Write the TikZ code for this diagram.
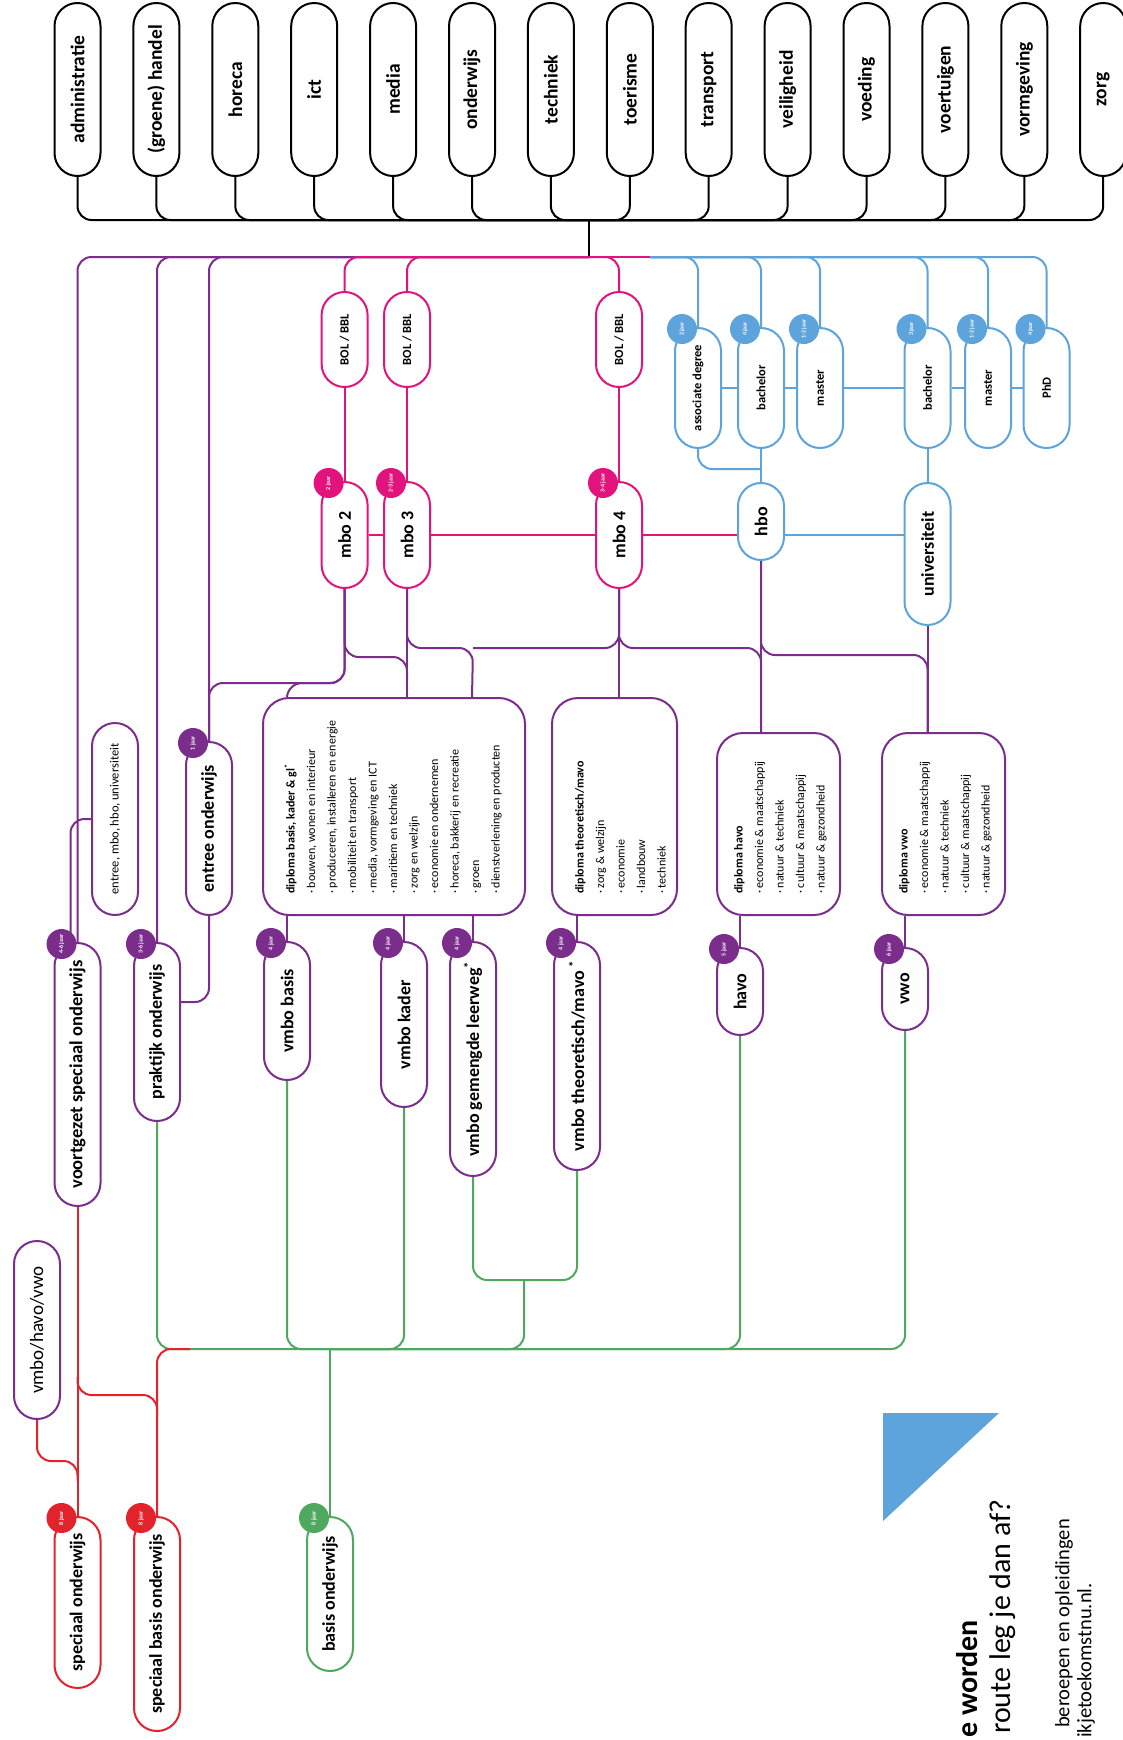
\documentclass[tikz,border=0pt]{standalone}
\usepackage{fontspec}
\setmainfont{Carlito}
\usetikzlibrary{calc,positioning,backgrounds}

\definecolor{paars}{HTML}{7B2D8B}
\definecolor{roze}{HTML}{E2137D}
\definecolor{lichtblauw}{HTML}{5DA3DC}
\definecolor{groen}{HTML}{4FA85E}
\definecolor{rood}{HTML}{E3232C}

\newcommand{\opzij}[1]{\rotatebox{90}{#1}}
\newcommand{\grootvet}{\fontsize{18}{19}\selectfont\bfseries}
\newcommand{\kleinvet}{\fontsize{12.5}{14}\selectfont\bfseries}
\newcommand{\klein}{\fontsize{12.5}{14}\selectfont}

\tikzset{
  pil/.style={draw=#1, line width=2pt, fill=white, rounded corners=23pt, minimum width=46pt, inner sep=0pt, font=\grootvet},
  pil/.default=black,
  doos/.style={draw=paars, line width=2pt, fill=white, rounded corners=26pt, inner sep=0pt},
  badge/.style={circle, fill=#1, minimum size=30pt, inner sep=0pt, text=white, font=\fontsize{6}{7}\selectfont\bfseries},
  lijn/.style={draw=#1, line width=2pt, rounded corners=14pt},
  blok/.style={inner sep=0pt, anchor=south west, font=\fontsize{12}{20.5}\selectfont}
}

\begin{document}
\begin{tikzpicture}[x=1pt, y=-1pt]
\useasboundingbox (0,0) rectangle (1122,1740);

\foreach \naam [count=\i from 0] in {administratie,(groene) handel,horeca,ict,media,onderwijs,techniek,toerisme,transport,veiligheid,voeding,voertuigen,vormgeving,zorg}
  \node[pil, minimum height=173pt, font=\fontsize{19.5}{20}\selectfont\bfseries] (s\i) at ({77.5+78.9*\i},89.5) {\opzij{\naam}};

\coordinate (stam) at (589,220);
\coordinate (hub) at (589,257);
\coordinate (hubr) at (650,257);

\node[pil=roze, minimum height=95pt, font=\kleinvet] (boltwo) at (344.6,339.5) {\opzij{BOL / BBL}};
\node[pil=roze, minimum height=95pt, font=\kleinvet] (bolthree) at (407,339.5) {\opzij{BOL / BBL}};
\node[pil=roze, minimum height=95pt, font=\kleinvet] (bolfour) at (619,339.5) {\opzij{BOL / BBL}};
\node[pil=roze, minimum height=106pt] (mbotwo) at (344.6,535) {\opzij{mbo 2}};
\node[pil=roze, minimum height=106pt] (mbothree) at (407,535) {\opzij{mbo 3}};
\node[pil=roze, minimum height=106pt] (mbofour) at (619,535) {\opzij{mbo 4}};

\node[pil=lichtblauw, minimum height=120pt, font=\kleinvet] (assoc) at (698,388) {\opzij{associate degree}};
\node[pil=lichtblauw, minimum height=120pt, font=\kleinvet] (bach) at (761,388) {\opzij{bachelor}};
\node[pil=lichtblauw, minimum height=120pt, font=\kleinvet] (mast) at (820,388) {\opzij{master}};
\node[pil=lichtblauw, minimum height=120pt, font=\kleinvet] (buni) at (927.5,388) {\opzij{bachelor}};
\node[pil=lichtblauw, minimum height=120pt, font=\kleinvet] (muni) at (988,388) {\opzij{master}};
\node[pil=lichtblauw, minimum height=120pt, font=\kleinvet] (phd) at (1046.5,388) {\opzij{PhD}};
\node[pil=lichtblauw, minimum height=77pt] (hbo) at (761,521.5) {\opzij{hbo}};
\node[pil=lichtblauw, minimum height=142pt] (univ) at (927.5,554) {\opzij{universiteit}};

\node[doos, minimum width=262pt, minimum height=217pt] (dipbasis) at (394,806.5) {};
\node[doos, minimum width=125pt, minimum height=217pt] (diptheo) at (614.5,806.5) {};
\node[doos, minimum width=123pt, minimum height=182pt] (diphavo) at (778.5,824) {};
\node[doos, minimum width=123pt, minimum height=182pt] (dipvwo) at (943.5,824) {};

\node[blok] (tbasis) at ($(dipbasis.south west)+(18,-22)$) {\opzij{\begin{tabular}{@{}l@{}}
\textbf{diploma basis, kader \& gl\textsuperscript{*}}\\
· bouwen, wonen en interieur\\
· produceren, installeren en energie\\
· mobiliteit en transport\\
· media, vormgeving en ICT\\
· maritiem en techniek\\
· zorg en welzijn\\
· economie en ondernemen\\
· horeca, bakkerij en recreatie\\
· groen\\
· dienstverlening en producten
\end{tabular}}};
\node[blok] (ttheo) at ($(diptheo.south west)+(18,-22)$) {\opzij{\begin{tabular}{@{}l@{}}
\textbf{diploma theoretisch/mavo}\\
· zorg \& welzijn\\
· economie\\
· landbouw\\
· techniek
\end{tabular}}};
\node[blok] (thavo) at ($(diphavo.south west)+(12,-22)$) {\opzij{\begin{tabular}{@{}l@{}}
\textbf{diploma havo}\\
· economie \& maatschappij\\
· natuur \& techniek\\
· cultuur \& maatschappij\\
· natuur \& gezondheid
\end{tabular}}};
\node[blok] (tvwo) at ($(dipvwo.south west)+(12,-22)$) {\opzij{\begin{tabular}{@{}l@{}}
\textbf{diploma vwo}\\
· economie \& maatschappij\\
· natuur \& techniek\\
· cultuur \& maatschappij\\
· natuur \& gezondheid
\end{tabular}}};

\node[pil=paars, minimum height=138pt] (vbasis) at (287,1011) {\opzij{vmbo basis}};
\node[pil=paars, minimum height=165pt] (vkader) at (404,1024.5) {\opzij{vmbo kader}};
\node[pil=paars, minimum height=234pt] (vgem) at (473,1059) {\opzij{vmbo gemengde leerweg\textsuperscript{*}}};
\node[pil=paars, minimum height=228pt] (vtheo) at (577,1056) {\opzij{vmbo theoretisch/mavo\,\textsuperscript{*}}};
\node[pil=paars, minimum height=87pt] (havo) at (740,991.5) {\opzij{havo}};
\node[pil=paars, minimum height=82pt] (vwo) at (905,989) {\opzij{vwo}};

\node[pil=paars, minimum height=263pt, font=\fontsize{18.5}{19}\selectfont\bfseries] (vso) at (77.5,1074.5) {\opzij{voortgezet speciaal onderwijs}};
\node[pil=paars, minimum height=178pt] (prak) at (157,1032) {\opzij{praktijk onderwijs}};
\node[pil=paars, minimum height=173pt] (entree) at (209,828.5) {\opzij{entree onderwijs}};
\node[pil=paars, minimum height=192pt, font=\klein] (emhu) at (115,819) {\opzij{entree, mbo, hbo, universiteit}};
\node[pil=paars, minimum height=178pt, font=\fontsize{19}{20}\selectfont] (vhv) at (37,1330) {\opzij{vmbo/havo/vwo}};

\node[pil=rood, minimum height=171pt] (so) at (77.5,1602.5) {\opzij{speciaal onderwijs}};
\node[pil=rood, minimum height=214pt] (sbo) at (157,1624) {\opzij{speciaal basis onderwijs}};
\node[pil=groen, minimum height=154pt] (bo) at (330,1594) {\opzij{basis onderwijs}};

\foreach \p/\k/\t in {mbotwo/roze/2 jaar, mbothree/roze/2-3 jaar, mbofour/roze/3-4 jaar,
    assoc/lichtblauw/2 jaar, bach/lichtblauw/4 jaar, mast/lichtblauw/1-2 jaar,
    buni/lichtblauw/3 jaar, muni/lichtblauw/1-2 jaar, phd/lichtblauw/4 jaar,
    entree/paars/1 jaar, vso/paars/4-6 jaar, prak/paars/3-6 jaar,
    vbasis/paars/4 jaar, vkader/paars/4 jaar, vgem/paars/4 jaar, vtheo/paars/4 jaar,
    havo/paars/5 jaar, vwo/paars/6 jaar, so/rood/8 jaar, sbo/rood/8 jaar, bo/groen/8 jaar}
  \node[badge=\k] (badge\p) at ($(\p.north west)+(8,2)$) {\opzij{\t}};

\fill[lichtblauw] (883,1413) -- (999,1413) -- (883,1521) -- cycle;
\node[anchor=south, inner sep=0pt, font=\fontsize{30}{32}\selectfont\bfseries] (kop) at (967,1738) {\opzij{e worden}};
\node[anchor=south, inner sep=0pt, font=\fontsize{30}{32}\selectfont] (vraag) at (1003,1734) {\opzij{route leg je dan af?}};
\node[anchor=south, inner sep=0pt, font=\fontsize{20.5}{22}\selectfont] (regel1) at (1064,1728) {\opzij{beroepen en opleidingen}};
\node[anchor=south, inner sep=0pt, font=\fontsize{20.5}{22}\selectfont] (regel2) at (1086,1738) {\opzij{ikjetoekomstnu.nl.}};

\begin{scope}[on background layer]
\fill[white] (0,0) rectangle (1122,1740);
\foreach \i in {0,...,13}
  \draw[lijn=black] (s\i.south) |- (stam);
\draw[lijn=black] (stam) -- (hub);

\draw[lijn=paars] (hub) -| (vso.north);
\draw[lijn=paars] (hub) -| (prak.north);
\draw[lijn=paars] (hub) -| (entree.north);
\draw[lijn=paars] ($(vso.north)+(-7,0)$) |- (emhu.west);
\draw[lijn=paars] ($(prak.north east)+(0,60)$) -| (entree.south);

\draw[lijn=roze] (hub) -| (boltwo.north);
\draw[lijn=roze] (hub) -| (bolthree.north);
\draw[lijn=roze] (hub) -| (bolfour.north);
\draw[lijn=roze] (hub) -- (hubr);
\draw[lijn=roze] (boltwo.south) -- (mbotwo.north);
\draw[lijn=roze] (bolthree.south) -- (mbothree.north);
\draw[lijn=roze] (bolfour.south) -- (mbofour.north);
\draw[lijn=roze] (mbotwo.east) -- (mbothree.west);
\draw[lijn=roze] (mbothree.east) -- (mbofour.west);
\draw[lijn=roze] (mbofour.east) -- (hbo.west |- mbofour.east);

\foreach \p in {assoc,bach,mast,buni,muni,phd}
  \draw[lijn=lichtblauw] (hubr) -| (\p.north);
\draw[lijn=lichtblauw] (assoc.east) -- (bach.west);
\draw[lijn=lichtblauw] (bach.east) -- (mast.west);
\draw[lijn=lichtblauw] (mast.east) -- (buni.west);
\draw[lijn=lichtblauw] (buni.east) -- (muni.west);
\draw[lijn=lichtblauw] (muni.east) -- (phd.west);
\draw[lijn=lichtblauw] (assoc.south) |- ($(bach.south)+(0,20)$);
\draw[lijn=lichtblauw] (bach.south) -- (hbo.north);
\draw[lijn=lichtblauw] (buni.south) -- (univ.north);
\draw[lijn=lichtblauw] (hbo.east |- mbofour.east) -- (univ.west |- mbofour.east);

\draw[lijn=paars] (mbotwo.south) |- (209,683) -- (entree.north);
\draw[lijn=paars] (mbotwo.south) |- (288,683) -- ($(dipbasis.north west)+(25,0)$);
\draw[lijn=paars] (mbotwo.south) |- (407,657) -- ($(mbothree.south)+(0,90)$);
\draw[lijn=paars] (mbothree.south) -- (mbothree.south |- dipbasis.north);
\draw[lijn=paars] (mbothree.south) |- (473,648) -- ($(dipbasis.north west)+(210,0)$);
\draw[lijn=paars] (mbofour.south) |- (473,648);
\draw[lijn=paars] (mbofour.south) -- (mbofour.south |- diptheo.north);
\draw[lijn=paars] (mbofour.south) |- (761,648) -- (hbo.south |- diphavo.north);
\draw[lijn=paars] (hbo.south) -- (hbo.south |- diphavo.north);
\draw[lijn=paars] (hbo.south) |- (927.5,655) -- (univ.south |- dipvwo.north);
\draw[lijn=paars] (univ.south) -- (univ.south |- dipvwo.north);

\draw[lijn=paars] (vbasis.north) -- (vbasis.north |- dipbasis.south);
\draw[lijn=paars] (vkader.north) -- (vkader.north |- dipbasis.south);
\draw[lijn=paars] (vgem.north) -- (vgem.north |- dipbasis.south);
\draw[lijn=paars] (vtheo.north) -- (vtheo.north |- diptheo.south);
\draw[lijn=paars] (havo.north) -- (havo.north |- diphavo.south);
\draw[lijn=paars] (vwo.north) -- (vwo.north |- dipvwo.south);

\coordinate (gb) at (330,1349);
\coordinate (ujoin) at (524,1280);
\coordinate (rb) at (190,1349);
\draw[lijn=groen] (prak.south) |- (gb);
\draw[lijn=groen] (vbasis.south) |- (gb);
\draw[lijn=groen] (vkader.south) |- (gb);
\draw[lijn=groen] (vgem.south) |- (ujoin);
\draw[lijn=groen] (vtheo.south) |- (ujoin);
\draw[lijn=groen] (ujoin) |- (gb);
\draw[lijn=groen] (havo.south) |- (gb);
\draw[lijn=groen] (vwo.south) |- (gb);
\draw[lijn=groen] (bo.north) -- (gb);

\draw[lijn=rood] (vso.south) -- (so.north);
\draw[lijn=rood] (rb) -| (sbo.north);
\draw[lijn=rood] ($(vso.south)+(0,170)$) |- ($(sbo.north)+(0,-121)$) -- ($(sbo.north)+(0,-100)$);
\draw[lijn=rood] (vhv.south) |- ($(so.north)+(0,-55)$) -- ($(so.north)+(0,-35)$);
\end{scope}
\end{tikzpicture}
\end{document}
